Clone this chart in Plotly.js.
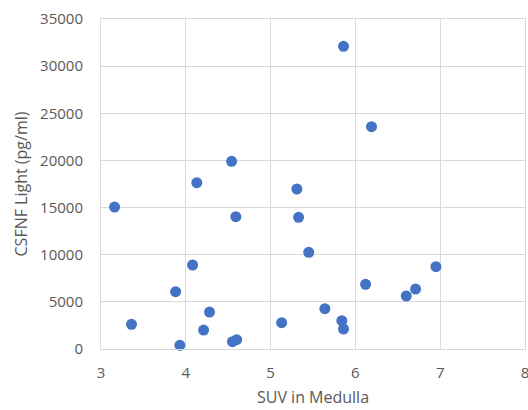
<!DOCTYPE html>
<html>
<head>
<meta charset="utf-8">
<script src="https://cdn.plot.ly/plotly-3.0.1.min.js"></script>
<style>html,body{margin:0;padding:0;background:#fff;}#chart{width:528px;height:410px;}</style>
</head>
<body>
<div id="chart"></div>
<script>
const suvMedulla = [3.16, 3.36, 3.88, 3.93, 4.08, 4.13, 4.21, 4.28, 4.54, 4.55, 4.60, 4.59, 5.13, 5.31, 5.33, 5.45, 5.64, 5.84, 5.86, 5.86, 6.12, 6.19, 6.60, 6.71, 6.95];
const csfnfLight = [15050, 2620, 6080, 390, 8910, 17640, 2010, 3920, 19900, 780, 990, 14030, 2790, 16970, 13970, 10250, 4280, 3000, 2120, 32100, 6860, 23580, 5620, 6360, 8730];
const xTickVals = [3, 4, 5, 6, 7, 8];
const yTickVals = [0, 5000, 10000, 15000, 20000, 25000, 30000, 35000];

const trace = {
  x: suvMedulla,
  y: csfnfLight,
  type: 'scatter',
  mode: 'markers',
  marker: {color: '#4472C4', size: 11},
  hoverinfo: 'x+y',
  cliponaxis: false
};

const font = {family: 'Open Sans, sans-serif', size: 15, color: '#595959'};

const layout = {
  width: 528,
  height: 410,
  margin: {l: 101, r: 3, t: 19, b: 61},
  paper_bgcolor: '#ffffff',
  plot_bgcolor: '#ffffff',
  showlegend: false,
  font: font,
  xaxis: {
    range: [3, 8.0002],
    tickvals: xTickVals,
    ticktext: xTickVals.map(String),
    showgrid: true,
    gridcolor: '#d9d9d9',
    gridwidth: 1,
    zeroline: false,
    showline: true,
    mirror: true,
    linecolor: '#d9d9d9',
    linewidth: 1,
    ticks: 'outside',
    ticklen: 10,
    tickcolor: 'rgba(0,0,0,0)',
    tickfont: font,
    ticklabeloverflow: 'allow',
    automargin: false,
    title: {text: 'SUV in Medulla', font: {family: 'Open Sans, sans-serif', size: 16, color: '#595959'}, standoff: 10}
  },
  yaxis: {
    range: [0, 35000],
    tickvals: yTickVals,
    ticktext: yTickVals.map(String),
    showgrid: true,
    gridcolor: '#d9d9d9',
    gridwidth: 1,
    zeroline: false,
    showline: true,
    mirror: true,
    linecolor: '#d9d9d9',
    linewidth: 1,
    ticks: 'outside',
    ticklen: 14,
    tickcolor: 'rgba(0,0,0,0)',
    tickfont: font,
    ticklabeloverflow: 'allow',
    automargin: false,
    title: {text: 'CSFNF Light (pg/ml)', font: {family: 'Open Sans, sans-serif', size: 16, color: '#595959'}, standoff: 8}
  }
};

Plotly.newPlot('chart', [trace], layout, {displayModeBar: false, staticPlot: true});
</script>
</body>
</html>
